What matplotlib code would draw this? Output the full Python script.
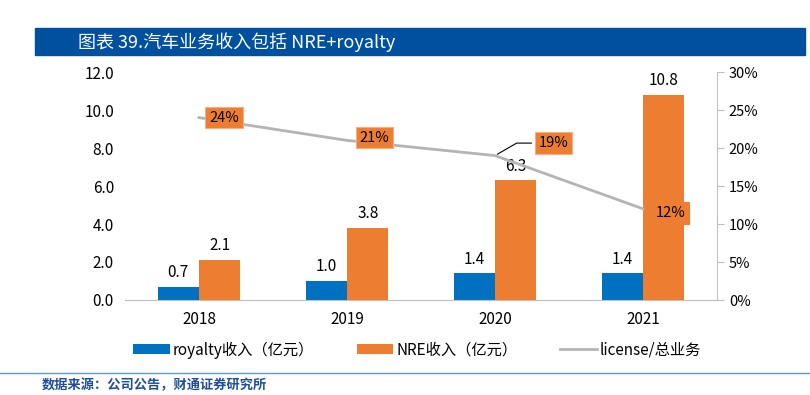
import matplotlib
matplotlib.use('Agg')
from matplotlib import pyplot as plt
from matplotlib.ticker import FuncFormatter

plt.rcParams['font.family'] = ['Noto Sans CJK SC', 'DejaVu Sans']

years = ['2018', '2019', '2020', '2021']
royalty = [0.7, 1.0, 1.4, 1.4]
nre = [2.1, 3.8, 6.3, 10.8]
license_share = [24, 21, 19, 12]

blue = '#0070C0'
orange = '#ED7D31'
gray = '#B4B4B4'
title_blue = '#0050A0'

fig = plt.figure(figsize=(8.1, 3.95), dpi=100)

# title bar
fig.patches.append(plt.Rectangle((35 / 810, 1 - 55 / 395), 770 / 810, 27 / 395,
                                 transform=fig.transFigure, color=title_blue, zorder=0))
fig.text(78 / 810, 1 - 42 / 395, '图表 39.汽车业务收入包括 NRE+royalty', color='white',
         fontsize=13, va='center', ha='left')

ax = fig.add_axes([125 / 810, 95 / 395, 592 / 810, 228 / 395])
x = list(range(len(years)))
w = 0.28
b1 = ax.bar([i - w / 2 for i in x], royalty, w, color=blue, label='royalty收入（亿元）')
b2 = ax.bar([i + w / 2 for i in x], nre, w, color=orange, label='NRE收入（亿元）')
for i, v in enumerate(royalty):
    ax.text(i - w / 2, v + 0.3, f'{v:.1f}', ha='center', va='bottom', fontsize=11)
for i, v in enumerate(nre):
    ax.text(i + w / 2, v + 0.3, f'{v:.1f}', ha='center', va='bottom', fontsize=11)

ax.set_xlim(-0.5, 3.5)
ax.set_ylim(0, 12)
ax.set_yticks([0, 2, 4, 6, 8, 10, 12])
ax.yaxis.set_major_formatter(FuncFormatter(lambda v, p: f'{v:.1f}'))
ax.set_xticks(x)
ax.set_xticklabels(years)
ax.tick_params(axis='both', length=0, labelsize=11, pad=8)
for s in ['top', 'left', 'right']:
    ax.spines[s].set_visible(False)
ax.spines['bottom'].set_color('#BFBFBF')

ax2 = ax.twinx()
ln, = ax2.plot(x, license_share, color=gray, linewidth=2, label='license/总业务')
ax2.set_ylim(0, 30)
ax2.set_yticks(range(0, 31, 5))
ax2.yaxis.set_major_formatter(FuncFormatter(lambda v, p: f'{int(v)}%'))
ax2.tick_params(axis='y', labelsize=10.5, direction='out', length=5, color='#BFBFBF')
for s in ['top', 'left', 'bottom']:
    ax2.spines[s].set_visible(False)
ax2.spines['right'].set_color('#BFBFBF')

box = dict(boxstyle='square,pad=0.25', facecolor=orange, edgecolor='#F4B183', linewidth=0.8)
offsets = [(18, 0), (20, 2), (42, 9), (20, -3)]
for i, (v, off) in enumerate(zip(license_share, offsets)):
    arrow = None
    if i == 2:
        arrow = dict(arrowstyle='-', color='black', linewidth=0.8,
                     connectionstyle='angle,angleA=0,angleB=30,rad=0')
    b = box if i < 3 else dict(box, edgecolor=orange)
    ax2.annotate(f'{v}%', xy=(i, v), xytext=off, textcoords='offset points',
                 ha='center', va='center', fontsize=10.5, bbox=b, arrowprops=arrow)

handles = [b1, b2, ln]
labels = [h.get_label() for h in handles]
fig.legend(handles, labels, loc='center', bbox_to_anchor=(0.515, 1 - 350 / 395), ncol=3,
           frameon=False, fontsize=11, handlelength=2.4, handleheight=0.6,
           handletextpad=0.2, columnspacing=2.8)

# bottom line and source
fig.add_artist(plt.Line2D([0, 1], [1 - 373 / 395] * 2, transform=fig.transFigure,
                          color='#5B9BD5', linewidth=1))
fig.text(42 / 810, 1 - 385 / 395, '数据来源：公司公告，财通证券研究所', color='#1F4E9A',
         fontsize=9.5, fontweight='bold', va='center', ha='left')

plt.savefig('out.png', dpi=100)
